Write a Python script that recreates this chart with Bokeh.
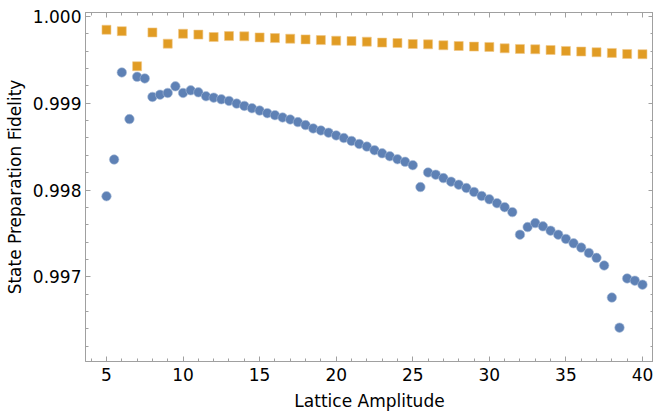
from bokeh.plotting import figure
from bokeh.models import LinearAxis, FixedTicker, PrintfTickFormatter, Range1d
from bokeh.embed import file_html
from bokeh.resources import INLINE

# Lattice amplitudes
x_blue = [5, 5.5, 6, 6.5, 7, 7.5, 8, 8.5, 9, 9.5, 10, 10.5, 11, 11.5, 12, 12.5,
          13, 13.5, 14, 14.5, 15, 15.5, 16, 16.5, 17, 17.5, 18, 18.5, 19, 19.5,
          20, 20.5, 21, 21.5, 22, 22.5, 23, 23.5, 24, 24.5, 25, 25.5, 26, 26.5,
          27, 27.5, 28, 28.5, 29, 29.5, 30, 30.5, 31, 31.5, 32, 32.5, 33, 33.5,
          34, 34.5, 35, 35.5, 36, 36.5, 37, 37.5, 38, 38.5, 39, 39.5, 40]
y_blue = [0.997929, 0.998352, 0.999355, 0.998818, 0.999305, 0.999286, 0.999073,
          0.999099, 0.999119, 0.999195, 0.999119, 0.999149, 0.999126, 0.999081,
          0.999065, 0.999046, 0.999027, 0.998996, 0.998970, 0.998943, 0.998916,
          0.998886, 0.998863, 0.998836, 0.998813, 0.998783, 0.998749, 0.998710,
          0.998687, 0.998661, 0.998630, 0.998600, 0.998566, 0.998531, 0.998501,
          0.998459, 0.998424, 0.998390, 0.998355, 0.998326, 0.998287, 0.998035,
          0.998203, 0.998177, 0.998138, 0.998097, 0.998062, 0.998024, 0.997978,
          0.997932, 0.997894, 0.997849, 0.997803, 0.997746, 0.997486, 0.997574,
          0.997620, 0.997582, 0.997532, 0.997486, 0.997437, 0.997387, 0.997337,
          0.997276, 0.997219, 0.997131, 0.996762, 0.996415, 0.996982, 0.996956,
          0.996910]

x_orange = list(range(5, 41))
y_orange = [0.999847, 0.999831, 0.999427, 0.999816, 0.999687, 0.999801, 0.999791,
            0.999763, 0.999774, 0.999771, 0.999759, 0.999751, 0.999744, 0.999736,
            0.999728, 0.999721, 0.999717, 0.999710, 0.999699, 0.999694, 0.999683,
            0.999679, 0.999668, 0.999660, 0.999653, 0.999649, 0.999633, 0.999626,
            0.999622, 0.999614, 0.999603, 0.999596, 0.999588, 0.999580, 0.999568,
            0.999565]

x_ticks = [5, 10, 15, 20, 25, 30, 35, 40]
y_ticks = [0.997, 0.998, 0.999, 1.000]
x_minor = [v for v in range(4, 41) if v % 5 != 0]
y_minor = [round(0.9962 + 0.0002 * i, 4) for i in range(20)]
y_minor = [v for v in y_minor if v not in y_ticks]

FRAME = "#a0a0a0"
FONT = "DejaVu Sans"

p = figure(width=653, height=413, output_backend="svg", toolbar_location=None,
           x_range=Range1d(3.63, 40.72), y_range=Range1d(0.996025, 1.0000458),
           min_border_left=85, min_border_top=12, min_border_right=0,
           min_border_bottom=50, background_fill_color="white",
           border_fill_color="white", outline_line_color=FRAME)
p.grid.visible = False


def style(ax, ticks, minor):
    ax.ticker = FixedTicker(ticks=ticks, minor_ticks=minor)
    ax.axis_line_color = FRAME
    ax.major_tick_line_color = FRAME
    ax.minor_tick_line_color = FRAME
    ax.major_tick_in = 5
    ax.major_tick_out = 0
    ax.minor_tick_in = 3
    ax.minor_tick_out = 0
    ax.major_label_text_font = FONT
    ax.major_label_text_font_size = "17px"
    ax.major_label_text_color = "black"
    ax.axis_label_text_font = FONT
    ax.axis_label_text_font_size = "17px"
    ax.axis_label_text_font_style = "normal"
    ax.axis_label_text_color = "black"


def tick_only(positions, length):
    ax = LinearAxis()
    ax.ticker = FixedTicker(ticks=[], minor_ticks=positions)
    ax.axis_line_color = FRAME
    ax.minor_tick_line_color = FRAME
    ax.minor_tick_in = length
    ax.minor_tick_out = 0
    ax.major_tick_in = 0
    ax.major_tick_out = 0
    ax.major_label_standoff = 0
    ax.axis_label_standoff = 0
    return ax


style(p.xaxis[0], x_ticks, x_minor)
style(p.yaxis[0], y_ticks, y_minor)
p.yaxis[0].formatter = PrintfTickFormatter(format="%.3f")
p.xaxis[0].axis_label = "Lattice Amplitude"
p.yaxis[0].axis_label = "State Preparation Fidelity"
p.xaxis[0].major_label_standoff = 6
p.yaxis[0].major_label_standoff = 4
p.xaxis[0].axis_label_standoff = 7
p.yaxis[0].axis_label_standoff = 5

p.add_layout(tick_only(x_ticks, 5), "above")
p.add_layout(tick_only(x_minor, 3), "above")
p.add_layout(tick_only(y_ticks, 5), "right")
p.add_layout(tick_only(y_minor, 3), "right")

p.scatter(x_orange, y_orange, marker="square", size=9, fill_color="#E19C24",
          line_color="#F0C888", line_width=0.6)
p.scatter(x_blue, y_blue, marker="circle", size=9.5, fill_color="#5E81B5",
          line_color="#A8BCD8", line_width=0.6)

open("out.html", "w").write(file_html(p, INLINE))
